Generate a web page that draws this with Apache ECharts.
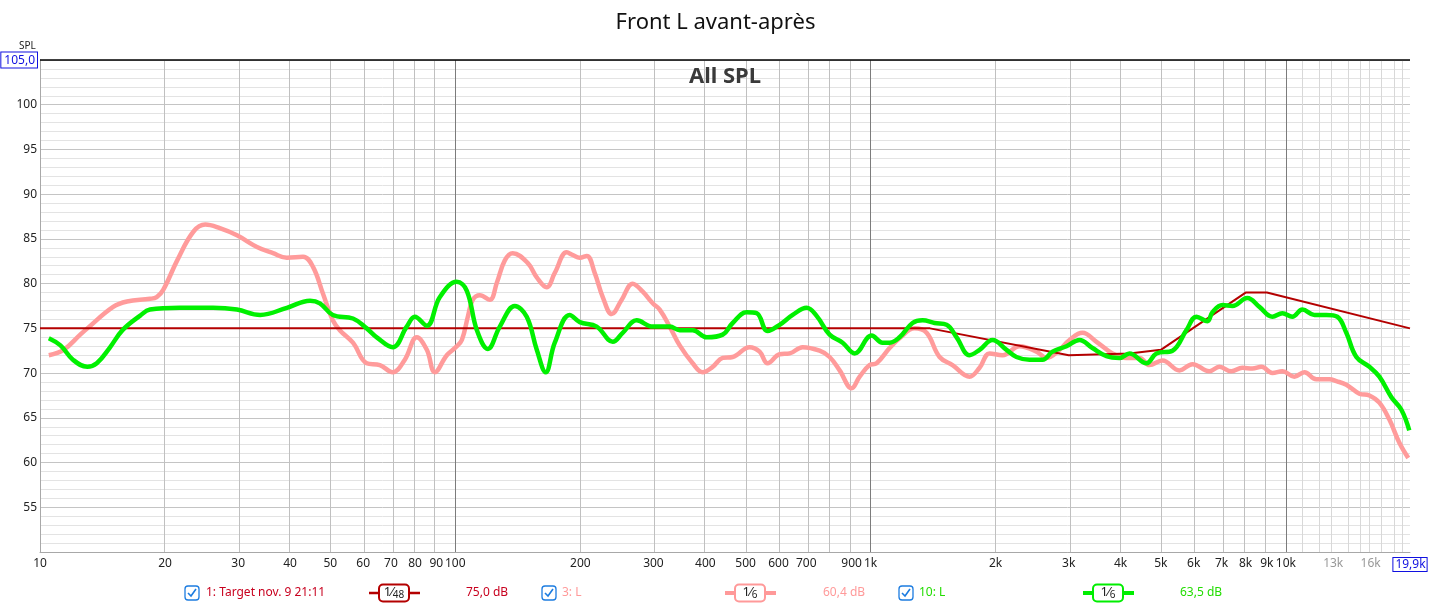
<!DOCTYPE html>
<html>
<head>
<meta charset="utf-8">
<title>Front L avant-après</title>
<script src="https://cdn.jsdelivr.net/npm/echarts@6/dist/echarts.min.js"></script>
<style>
  html, body { margin: 0; padding: 0; background: #fff; }
  #chart { width: 1431px; height: 604px; }
</style>
</head>
<body>
<div id="chart"></div>
<script>
// frequency axis range (Hz) and level range (dB)
const freqMin = 10;
const freqMax = 19900;
const dbMin = 50;
const dbMax = 105;

// x tick labels
const tickFreqs = [10, 20, 30, 40, 50, 60, 70, 80, 90, 100, 200, 300, 400, 500, 600, 700, 900, 1000,
  2000, 3000, 4000, 5000, 6000, 7000, 8000, 9000, 10000, 13000, 16000, 19900];
const tickLabels = ['10', '20', '30', '40', '50', '60', '70', '80', '90', '100', '200', '300', '400', '500',
  '600', '700', '900', '1k', '2k', '3k', '4k', '5k', '6k', '7k', '8k', '9k', '10k', '13k', '16k', '19,9k'];

// vertical grid lines
const gridFreqs = [20, 30, 40, 50, 60, 70, 80, 90, 200, 300, 400, 500, 600, 700, 800, 900,
  2000, 3000, 4000, 5000, 6000, 7000, 8000, 9000];
const decadeFreqs = [100, 1000, 10000];
const highGridFreqs = [11000, 12000, 13000, 14000, 15000, 16000, 17000, 18000, 19000];

// 1: Target (house curve)
const targetFreq = [10, 1390, 3000, 4200, 5000, 8000, 9000, 19900];
const targetDb = [75, 75, 72, 72.2, 72.6, 79, 79, 75];

// 3: L (before)
const beforeFreq = [
  10.5, 11.4, 12.5, 13.0, 15.0, 16.2, 18.4, 19.1, 19.8, 21.4,
  23.4, 25.0, 27.1, 29.8, 33.3, 36.4, 39.3, 43.0, 45.4, 48.0,
  50.7, 52.7, 56.7, 61.2, 65.8, 70.7, 75.6, 80.8, 85.4, 89.3,
  95.4, 100.3, 103.7, 107.2, 110.2, 114.6, 121.1, 125.9, 131.6, 137.5,
  149.5, 157.1, 166, 173.6, 185.5, 191.8, 199.4, 207.3, 216.6, 226.5,
  238.1, 251.6, 267.4, 282.7, 298.8, 310.6, 328.3, 347, 372.9, 394.2,
  416.6, 440.4, 465.5, 511.4, 540.5, 565, 603.9, 638.5, 686.1, 753.8,
  796.8, 842.3, 900.3, 941.1, 994.5, 1034, 1111, 1174, 1276, 1364,
  1466, 1575, 1731, 1830, 1934, 2078, 2284, 2509, 2652, 2851,
  3013, 3237, 3499, 3823, 4132, 4440, 4693, 5045, 5541, 5957,
  6544, 6917, 7390, 7856, 8305, 8730, 9280, 9808, 10480, 11080,
  11840, 12730, 13230, 13980, 15030, 15890, 16790, 17750, 18760, 19710
];
const beforeDb = [
  72.0, 72.6, 74.3, 75.0, 77.4, 78.0, 78.3, 78.5, 79.3, 82.6,
  85.8, 86.6, 86.2, 85.4, 84.1, 83.4, 82.9, 83.0, 81.9, 78.9,
  75.9, 74.8, 73.4, 71.1, 70.9, 70.1, 71.5, 74.0, 72.6, 70.1,
  72.0, 72.9, 73.7, 76.3, 78.2, 78.7, 78.2, 80.1, 82.6, 83.4,
  82.3, 80.7, 79.6, 81.2, 83.5, 83.2, 82.9, 83.1, 81.2, 78.5,
  76.6, 78.2, 80.0, 79.1, 77.8, 77.1, 75.2, 73.1, 71.1, 70.1,
  70.7, 71.7, 71.8, 72.9, 72.4, 71.1, 72.1, 72.2, 72.9, 72.5,
  71.8, 70.3, 68.3, 69.6, 70.9, 71.1, 72.8, 73.9, 75.0, 74.5,
  71.8, 70.9, 69.6, 70.6, 72.2, 72.0, 73.0, 72.4, 71.7, 72.6,
  73.7, 74.5, 73.5, 72.2, 71.7, 71.7, 70.9, 71.4, 70.3, 71.0,
  70.2, 70.7, 70.2, 70.6, 70.5, 70.7, 70.0, 70.2, 69.6, 70.1,
  69.3, 69.3, 69.1, 68.7, 67.7, 67.5, 66.7, 64.8, 62.2, 60.5
];

// 10: L (after)
const afterFreq = [
  10.5, 11.2, 12.0, 13.0, 13.7, 14.7, 15.8, 17.4, 18.4, 21.7,
  26.1, 29.8, 33.9, 39.3, 44.7, 47.2, 50.7, 56.7, 61.2, 64.7,
  70.7, 76.4, 79.9, 85.4, 91.8, 100.8, 106.6, 112.7, 119.8, 128,
  139.1, 148.6, 157.1, 165.1, 173.6, 188.6, 199.4, 219, 239.4, 253,
  273.4, 298.8, 328.3, 347, 372.9, 403, 440.4, 465.5, 503, 531.6,
  565, 603.9, 649.2, 701.5, 741.3, 796.8, 856.4, 915.4, 1006, 1069,
  1111, 1174, 1262, 1334, 1426, 1524, 1611, 1731, 1830, 1966,
  2125, 2245, 2413, 2594, 2742, 2963, 3184, 3422, 3698, 3975,
  4201, 4616, 4879, 5332, 5761, 6090, 6472, 6654, 7033, 7432,
  8077, 8635, 9280, 9808, 10360, 10960, 11710, 12520, 13300, 13980,
  14780, 15890, 16790, 17950, 18970, 19820
];
const afterDb = [
  73.9, 73.1, 71.5, 70.7, 71.1, 72.8, 74.8, 76.4, 77.1, 77.3,
  77.3, 77.1, 76.5, 77.3, 78.1, 77.8, 76.5, 76.1, 75.0, 74.0,
  72.9, 75.2, 76.3, 75.3, 78.5, 80.2, 79.2, 74.8, 72.7, 75.2,
  77.5, 76.3, 72.6, 70.1, 73.4, 76.5, 75.7, 75.2, 73.5, 74.5,
  75.9, 75.2, 75.2, 74.8, 74.8, 74.0, 74.3, 75.6, 76.8, 76.7,
  74.7, 75.4, 76.5, 77.3, 76.4, 74.3, 73.4, 72.2, 74.2, 73.4,
  73.4, 74.0, 75.6, 75.9, 75.6, 75.4, 74.0, 72.0, 72.6, 73.7,
  72.6, 71.8, 71.5, 71.5, 72.4, 73.0, 73.7, 72.8, 71.9, 71.7,
  72.2, 71.1, 72.2, 72.5, 74.8, 76.3, 75.8, 76.8, 77.6, 77.5,
  78.4, 77.4, 76.3, 76.7, 76.3, 77.1, 76.5, 76.5, 76.3, 74.5,
  71.8, 70.7, 69.6, 67.3, 65.9, 63.6
];

const FONT = '"Noto Sans", "Open Sans", sans-serif';
const toPoints = (freqs, dbs) => freqs.map((f, i) => [Math.log10(f), dbs[i]]);

// legend row under the plot
const legendItems = [
  { label: '1: Target nov. 9 21:11', frac: '48', value: '75,0 dB', textColor: '#c8001e', lineColor: '#b40000',
    lineWidth: 2.5, boxX: 185, nameX: 206, symX: 369, valueX: 466 },
  { label: '3: L', frac: '6', value: '60,4 dB', textColor: '#ff9a9a', lineColor: '#ff9999',
    lineWidth: 4, boxX: 542, nameX: 562, symX: 725, valueX: 823 },
  { label: '10: L', frac: '6', value: '63,5 dB', textColor: '#22dd00', lineColor: '#00ee00',
    lineWidth: 4, boxX: 899, nameX: 919, symX: 1083, valueX: 1180 },
];

function legendGraphics() {
  const els = [];
  const cy = 593;
  legendItems.forEach((it) => {
    els.push({
      type: 'rect', shape: { x: it.boxX, y: cy - 7, width: 14, height: 14, r: 3 },
      style: { fill: '#fff', stroke: '#1c7ce0', lineWidth: 1.3 },
    });
    els.push({
      type: 'polyline', shape: { points: [[it.boxX + 3, cy], [it.boxX + 6, cy + 3], [it.boxX + 11, cy - 4]] },
      style: { fill: null, stroke: '#1c7ce0', lineWidth: 1.6 },
    });
    els.push({
      type: 'text', x: it.nameX, y: cy,
      style: { text: it.label, fill: it.textColor, font: '12px ' + FONT, verticalAlign: 'middle' },
    });
    els.push({
      type: 'line', shape: { x1: it.symX, y1: cy, x2: it.symX + 51, y2: cy },
      style: { stroke: it.lineColor, lineWidth: it.lineWidth },
    });
    els.push({
      type: 'rect', shape: { x: it.symX + 10, y: cy - 8.5, width: 30, height: 17, r: 4 },
      style: { fill: '#fff', stroke: it.lineColor, lineWidth: 2 },
    });
    els.push({
      type: 'text', x: it.symX + 25, y: cy,
      style: {
        text: '{n|1⁄}{d|' + it.frac + '}', align: 'center', verticalAlign: 'middle',
        rich: {
          n: { fontSize: 13, fontFamily: FONT, fill: '#222', verticalAlign: 'top' },
          d: { fontSize: 10, fontFamily: FONT, fill: '#222', verticalAlign: 'bottom', padding: [4, 0, 0, 0] },
        },
      },
    });
    els.push({
      type: 'text', x: it.valueX, y: cy,
      style: { text: it.value, fill: it.textColor, font: '12px ' + FONT, verticalAlign: 'middle' },
    });
  });
  return els;
}

const chart = echarts.init(document.getElementById('chart'), null, { renderer: 'canvas' });

const vLine = (f, color, width) => ({
  xAxis: Math.log10(f), lineStyle: { color: color, width: width, type: 'solid' },
});

const option = {
  animation: false,
  backgroundColor: '#fff',
  title: {
    text: 'Front L avant-après',
    left: 'center',
    top: 7,
    textStyle: { fontSize: 22, fontWeight: 'normal', color: '#111', fontFamily: FONT },
  },
  grid: { left: 40, top: 60, width: 1370, height: 492, containLabel: false, outerBoundsMode: 'none' },
  xAxis: {
    type: 'value',
    min: Math.log10(freqMin),
    max: Math.log10(freqMax),
    axisLine: { show: true, lineStyle: { color: '#a8a8a8' } },
    axisTick: { show: false },
    splitLine: { show: false },
    axisLabel: {
      customValues: tickFreqs.map((f) => Math.log10(f)),
      margin: 6,
      fontSize: 12,
      fontFamily: FONT,
      color: '#222',
      formatter: (v) => {
        const i = tickFreqs.findIndex((f) => Math.abs(Math.log10(f) - v) < 1e-6);
        if (i < 0) return '';
        const t = tickLabels[i];
        if (t === '13k' || t === '16k') return '{g|' + t + '}';
        if (i === tickFreqs.length - 1) return '{b|' + t + '}';
        return t;
      },
      rich: {
        g: { color: '#999', fontSize: 12, fontFamily: FONT },
        b: { color: '#1010e0', fontSize: 12, fontFamily: FONT, borderColor: '#1010e0', borderWidth: 1,
             padding: [1, 1, 0, 2], backgroundColor: '#fff' },
      },
    },
  },
  yAxis: {
    type: 'value',
    min: dbMin,
    max: dbMax,
    interval: 5,
    axisLine: { show: true, lineStyle: { color: '#a8a8a8' } },
    axisTick: { show: false },
    splitLine: { show: true, lineStyle: { color: '#c4c4c4' } },
    minorTick: { show: false, splitNumber: 5 },
    minorSplitLine: { show: true, lineStyle: { color: '#e3e3e3' } },
    axisLabel: {
      margin: 3,
      fontSize: 12,
      fontFamily: FONT,
      color: '#222',
      formatter: (v) => {
        if (v === dbMin) return '';
        if (v === dbMax) return '{b|105,0}';
        return String(v);
      },
      rich: {
        b: { color: '#1010e0', fontSize: 12, fontFamily: FONT, borderColor: '#1010e0', borderWidth: 1,
             padding: [2, 2, 1, 3], backgroundColor: '#fff' },
      },
    },
  },
  graphic: [
    {
      type: 'text', left: 19, top: 41, z: 100,
      style: { text: 'SPL', fill: '#222', font: '10px ' + FONT },
    },
    {
      type: 'text', x: 725, y: 77, z: 100,
      style: { text: 'All SPL', fill: '#3a3a3a', font: 'bold 22px ' + FONT, align: 'center', verticalAlign: 'middle' },
    },
    ...legendGraphics(),
  ],
  series: [
    {
      // holder for grid lines
      type: 'line',
      data: [[1, dbMin]],
      showSymbol: false,
      silent: true,
      z: 0,
      lineStyle: { opacity: 0 },
      markLine: {
        silent: true,
        symbol: 'none',
        z: 1,
        label: { show: false },
        animation: false,
        data: [
          ...gridFreqs.map((f) => vLine(f, '#c0c0c0', 1)),
          ...highGridFreqs.map((f) => vLine(f, '#d8d8d8', 1)),
          ...decadeFreqs.map((f) => vLine(f, '#7c7c7c', 1)),
          vLine(freqMax, '#000', 1.5),
          { yAxis: dbMax, lineStyle: { color: '#000', width: 1.5, type: 'solid' } },
        ],
      },
    },
    {
      name: '3: L',
      type: 'line',
      data: toPoints(beforeFreq, beforeDb),
      smooth: 0.4,
      showSymbol: false,
      z: 10,
      lineStyle: { color: '#ff9b9b', width: 4.5 },
    },
    {
      name: '1: Target',
      type: 'line',
      data: toPoints(targetFreq, targetDb),
      showSymbol: false,
      z: 11,
      lineStyle: { color: '#b40000', width: 2 },
    },
    {
      name: '10: L',
      type: 'line',
      data: toPoints(afterFreq, afterDb),
      smooth: 0.4,
      showSymbol: false,
      z: 12,
      lineStyle: { color: '#00f000', width: 4.5 },
    },
  ],
};

chart.setOption(option);
</script>
</body>
</html>
